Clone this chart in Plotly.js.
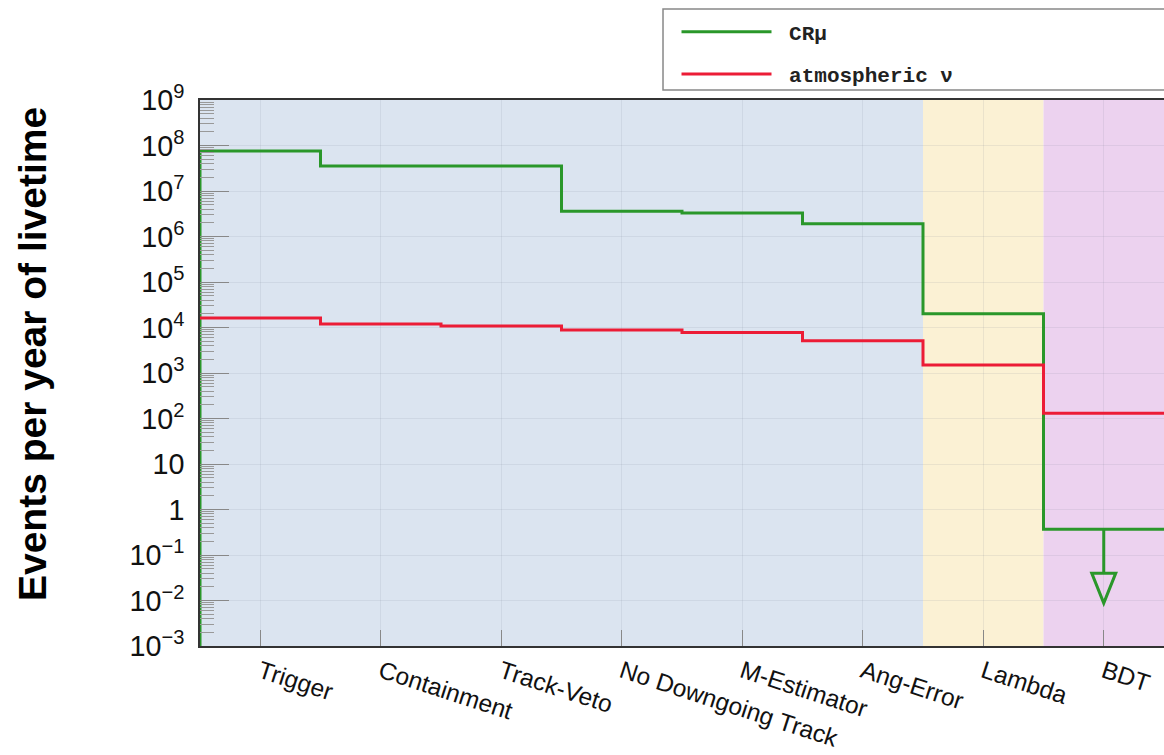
<!DOCTYPE html>
<html>
<head>
<meta charset="utf-8">
<script src="https://cdn.plot.ly/plotly-3.0.1.min.js"></script>
<style>html,body{margin:0;padding:0;background:#fff;}#chart{width:1164px;height:755px;}</style>
</head>
<body>
<div id="chart"></div>
<script>
// ---- data ----
const categories = ["Trigger", "Containment", "Track-Veto", "No Downgoing Track", "M-Estimator", "Ang-Error", "Lambda", "BDT"];
const crMuonRates = [7.6e7, 3.55e7, 3.55e7, 3.6e6, 3.3e6, 1.9e6, 2.0e4, 0.37];
const atmNuRates = [1.62e4, 1.19e4, 1.08e4, 8.8e3, 7.8e3, 5.1e3, 1.5e3, 130];
const upperLimitIndex = 7;           // BDT bin of CRμ is an upper limit
const yRangeDecades = [-3, 9];       // log10 of axis range
const seriesNames = ["CR\u03bc", "atmospheric \u03bd"];
const yTitle = "Events per year of livetime";
// analysis levels: [first category index, last category index]
const levelSpans = [[0, 5], [6, 6], [7, 7]];
const levelColors = ["#dbe4f0", "#fbf1d4", "#ecd2ef"];

// ---- step construction ----
function stepXY(vals, startFromFloor) {
  const x = [], y = [];
  if (startFromFloor) { x.push(-0.5); y.push(Math.pow(10, yRangeDecades[0])); }
  vals.forEach((v, i) => { x.push(i - 0.5); y.push(v); });
  x.push(vals.length - 0.5); y.push(vals[vals.length - 1]);
  return {x, y};
}
const g = stepXY(crMuonRates, true);
const r = stepXY(atmNuRates, false);

const green = "#2a972a", red = "#ec1c36";
const NB = "\u00a0";

const traces = [
  {x: g.x, y: g.y, name: NB + seriesNames[0], mode: "lines", line: {color: green, width: 3, shape: "hv"}, legendgroup: "a"},
  {x: r.x, y: r.y, name: NB + seriesNames[1], mode: "lines", line: {color: red, width: 3, shape: "hv"}, legendgroup: "b"}
];

const shapes = levelSpans.map((s, k) => ({
  type: "rect", xref: "x", yref: "paper", x0: s[0] - 0.5, x1: s[1] + 0.5, y0: 0, y1: 1,
  fillcolor: levelColors[k], line: {width: 0}, layer: "below"
}));
// upper-limit arrow anchored at the BDT CRμ value
shapes.push({
  type: "path", xref: "x", yref: "y", xsizemode: "pixel", ysizemode: "pixel",
  xanchor: upperLimitIndex, yanchor: crMuonRates[upperLimitIndex],
  path: "M0,0 V-44 M-12,-44 H12 L0,-74 Z",
  line: {color: green, width: 3}, fillcolor: "rgba(0,0,0,0)", layer: "above"
});
// legend frame
shapes.push({
  type: "rect", xref: "paper", yref: "paper", x0: 0.4803, x1: 1.05, y0: 1.0183, y1: 1.1667,
  line: {color: "#888", width: 1.5}, fillcolor: "rgba(0,0,0,0)"
});

const layout = {
  width: 1164, height: 755,
  margin: {l: 200, r: 0, t: 100, b: 109},
  paper_bgcolor: "#fff", plot_bgcolor: "#fff",
  showlegend: true,
  legend: {
    x: 0.4943, y: 1.162, xanchor: "left", yanchor: "top",
    bgcolor: "rgba(0,0,0,0)", borderwidth: 0,
    font: {family: "Liberation Mono, Courier New, monospace", size: 21, weight: "bold", color: "#222"},
    itemwidth: 90, tracegroupgap: 12
  },
  xaxis: {
    range: [-0.5, categories.length - 0.5],
    tickvals: categories.map((c, i) => i), ticktext: categories,
    tickangle: 18, ticks: "inside", ticklen: 16, tickcolor: "#888", tickwidth: 1,
    showgrid: true, gridcolor: "rgba(120,130,150,0.13)", gridwidth: 1,
    showline: true, linecolor: "#333", linewidth: 2, mirror: true,
    tickfont: {family: "Liberation Sans, Arial, sans-serif", size: 24.5, color: "#111"},
    ticklabelstandoff: 0,
    zeroline: false, fixedrange: true
  },
  yaxis: {
    type: "log", range: yRangeDecades, dtick: 1, exponentformat: "power",
    ticks: "inside", ticklen: 29, tickcolor: "#888", tickwidth: 1,
    minor: {ticks: "inside", ticklen: 14, tickcolor: "#999", tickwidth: 1, dtick: "D1", showgrid: false},
    showgrid: true, gridcolor: "rgba(120,130,150,0.13)", gridwidth: 1,
    showline: true, linecolor: "#333", linewidth: 2,
    tickfont: {family: "Liberation Sans, Arial, sans-serif", size: 23, color: "#111"},
    ticklabelstandoff: 9,
    zeroline: false, fixedrange: true
  },
  annotations: [{
    text: yTitle, xref: "paper", yref: "paper", x: -0.1732, y: 0.5348,
    xanchor: "center", yanchor: "middle", textangle: -90, showarrow: false,
    font: {family: "Liberation Sans, Arial, sans-serif", size: 39, weight: "bold", color: "#000"}
  }],
  shapes: shapes
};

Plotly.newPlot("chart", traces, layout, {displayModeBar: false, staticPlot: true});
</script>
</body>
</html>
